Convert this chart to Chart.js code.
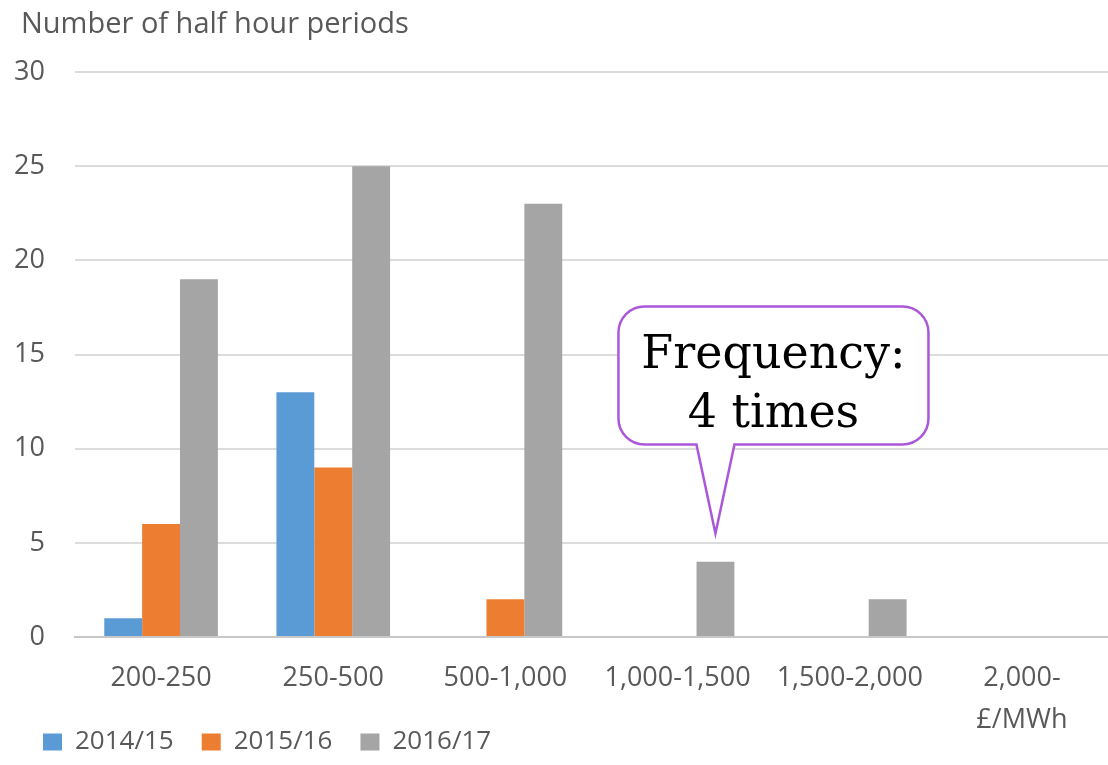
<!DOCTYPE html>
<html>
<head>
<meta charset="utf-8">
<script src="https://cdn.jsdelivr.net/npm/chart.js@4"></script>
<style>
  html, body { margin: 0; padding: 0; background: #fff; }
  #wrap { width: 1108px; height: 765px; }
</style>
</head>
<body>
<div id="wrap"><canvas id="chart" width="1108" height="765"></canvas></div>
<script>
// Price bands (£/MWh) and number of half hour periods per year
const categories = ['200-250', '250-500', '500-1,000', '1,000-1,500', '1,500-2,000', '2,000-'];
const unitLabel = '£/MWh';
const seriesNames = ['2014/15', '2015/16', '2016/17'];
const values1415 = [1, 13, 0, 0, 0, 0];
const values1516 = [6, 9, 2, 0, 0, 0];
const values1617 = [19, 25, 23, 4, 2, 0];
const yTicks = [0, 5, 10, 15, 20, 25, 30];

const colors = ['#5b9bd5', '#ed7d31', '#a5a5a5'];
const textGrey = '#595959';
const sans = '"Open Sans", "DejaVu Sans", sans-serif';

// title, unit under the last band and the speech bubble callout
const extrasPlugin = {
    id: 'extras',
    afterDraw(chart) {
        const c = chart.ctx;
        const xs = chart.scales.x;
        c.save();
        c.fillStyle = textGrey;
        c.font = '29px ' + sans;
        c.textBaseline = 'alphabetic';
        c.textAlign = 'left';
        c.fillText('Number of half hour periods', 21, 33);

        // unit sits under the last category label (scale clips its own labels)
        c.font = '27px ' + sans;
        c.textAlign = 'center';
        c.textBaseline = 'middle';
        c.fillText(unitLabel, xs.getPixelForValue(categories.length - 1), xs.top + 83);

        // bubble points at the 2016/17 bar of the 1,000-1,500 band
        const bar = chart.getDatasetMeta(2).data[3];
        const tipX = bar.x;
        const tipY = chart.scales.y.getPixelForValue(5.5);
        const left = tipX - 97, right = tipX + 213;
        const top = tipY - 227, bottom = tipY - 89;
        const r = 26;
        c.beginPath();
        c.moveTo(left + r, top);
        c.lineTo(right - r, top);
        c.arcTo(right, top, right, top + r, r);
        c.lineTo(right, bottom - r);
        c.arcTo(right, bottom, right - r, bottom, r);
        c.lineTo(tipX + 19, bottom);
        c.lineTo(tipX, tipY);
        c.lineTo(tipX - 19, bottom);
        c.lineTo(left + r, bottom);
        c.arcTo(left, bottom, left, bottom - r, r);
        c.lineTo(left, top + r);
        c.arcTo(left, top, left + r, top, r);
        c.closePath();
        c.fillStyle = '#ffffff';
        c.fill();
        c.lineWidth = 2.5;
        c.strokeStyle = '#ab57d9';
        c.stroke();

        c.fillStyle = '#000';
        c.font = '46px "DejaVu Serif", serif';
        c.textAlign = 'center';
        c.textBaseline = 'alphabetic';
        const cx = (left + right) / 2;
        c.fillText('Frequency:', cx, top + 62);
        c.fillText('4 times', cx, top + 121);
        c.restore();
    }
};

new Chart(document.getElementById('chart'), {
    type: 'bar',
    data: {
        labels: categories,
        datasets: [
            { label: seriesNames[0], data: values1415, backgroundColor: colors[0] },
            { label: seriesNames[1], data: values1516, backgroundColor: colors[1] },
            { label: seriesNames[2], data: values1617, backgroundColor: colors[2] }
        ]
    },
    options: {
        responsive: false,
        animation: false,
        datasets: {
            bar: { categoryPercentage: 0.66, barPercentage: 1.0, borderWidth: 0 }
        },
        layout: { padding: { top: 72, left: 15, right: 0, bottom: 0 } },
        scales: {
            x: {
                grid: { display: false, drawTicks: false },
                border: { display: true, color: '#c8c8c8', width: 2 },
                ticks: {
                    color: textGrey,
                    font: { family: sans, size: 27, lineHeight: 1.55 },
                    padding: 20,
                    maxRotation: 0,
                    autoSkip: false
                },
                afterFit(scale) { scale.height = 64; }
            },
            y: {
                min: 0,
                max: 30,
                afterBuildTicks(scale) { scale.ticks = yTicks.map(v => ({ value: v })); },
                grid: { color: '#dcdcdc', lineWidth: 2, drawTicks: false },
                border: { display: false },
                ticks: {
                    color: textGrey,
                    font: { family: sans, size: 27 },
                    padding: 30
                },
                afterFit(scale) { scale.width = 60; }
            }
        },
        plugins: {
            legend: {
                position: 'bottom',
                align: 'start',
                labels: {
                    color: textGrey,
                    font: { family: sans, size: 26 },
                    boxWidth: 19,
                    boxHeight: 17,
                    padding: 28
                }
            },
            tooltip: { enabled: false }
        }
    },
    plugins: [extrasPlugin]
});
</script>
</body>
</html>
